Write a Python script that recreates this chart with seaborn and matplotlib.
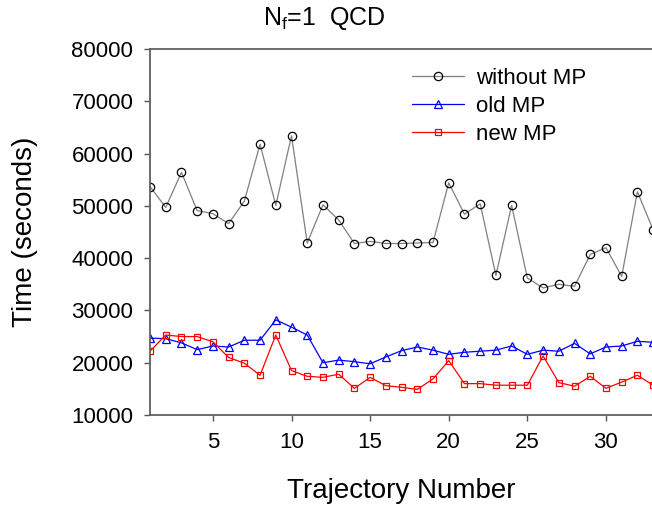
import matplotlib
matplotlib.use("Agg")
import matplotlib.pyplot as plt
import pandas as pd
import seaborn as sns

# trajectory numbers and timings (seconds)
trajectory = list(range(1, 34))
without_mp = [53700, 49700, 56400, 49100, 48500, 46600, 50900, 61800, 50100, 63400,
              42900, 50200, 47300, 42800, 43200, 42800, 42800, 42900, 43000, 54400,
              48400, 50400, 36700, 50100, 36200, 34300, 35000, 34600, 40700, 42000,
              36500, 52700, 45400]
old_mp = [24700, 24600, 23800, 22500, 23200, 23000, 24300, 24300, 28200, 26800,
          25300, 20000, 20500, 20200, 19800, 21100, 22300, 23000, 22400, 21600,
          22000, 22200, 22400, 23200, 21600, 22400, 22200, 23700, 21700, 23000,
          23200, 24100, 23900]
new_mp = [22200, 25300, 25000, 25000, 24000, 21000, 19900, 17600, 25300, 18500,
          17400, 17200, 17800, 15100, 17200, 15600, 15300, 14900, 16900, 20400,
          16000, 16000, 15700, 15700, 15700, 21300, 16200, 15500, 17400, 15100,
          16300, 17600, 15700]

sns.set_theme(style="ticks")
plt.rcParams["font.family"] = ["Liberation Sans", "DejaVu Sans"]
plt.rcParams["mathtext.default"] = "regular"
plt.rcParams["text.color"] = "black"
plt.rcParams["xtick.labelcolor"] = "black"
plt.rcParams["ytick.labelcolor"] = "black"

fig = plt.figure(figsize=(6.52, 5.08), dpi=100)
ax = fig.add_axes([150 / 652, 93 / 508, 522 / 652, 366 / 508])

df = pd.DataFrame({"traj": trajectory, "without": without_mp, "old": old_mp, "new": new_mp})

sns.lineplot(data=df, x="traj", y="without", ax=ax, color="#808080", lw=0.9,
             marker="o", ms=6, mfc="none", mec="black", mew=0.9, label="without MP")
sns.lineplot(data=df, x="traj", y="old", ax=ax, color="#0000ff", lw=0.9,
             marker="^", ms=5.5, mfc="none", mec="#0000ff", mew=0.9, label="old MP")
sns.lineplot(data=df, x="traj", y="new", ax=ax, color="#ff0000", lw=0.9,
             marker="s", ms=5, mfc="none", mec="#ff0000", mew=0.9, label="new MP")

ax.set_xlim(1, 34.2)
ax.set_ylim(10000, 80000)
ax.set_xticks([5, 10, 15, 20, 25, 30])
ax.set_yticks(range(10000, 80001, 10000))
ax.tick_params(labelsize=16, length=4, width=1, color="#555555", pad=8)
for s in ["left", "bottom", "top"]:
    ax.spines[s].set_visible(True)
    ax.spines[s].set_color("#606060")
    ax.spines[s].set_linewidth(1.3)
ax.spines["right"].set_visible(False)
ax.set_xlabel("")
ax.set_ylabel("")

fig.text(25 / 652, 1 - 232 / 508, "Time (seconds)", rotation=90, fontsize=20,
         ha="center", va="center")
fig.text(401 / 652, 1 - 491 / 508, "Trajectory Number", fontsize=20,
         ha="center", va="center")
fig.text(324 / 652, 1 - 5 / 508, "N$_f$=1  QCD", fontsize=18, ha="center", va="top")

leg = ax.legend(loc="upper left", bbox_to_anchor=(412 / 652, 1 - 68 / 508),
                bbox_transform=fig.transFigure, frameon=False, fontsize=16,
                handlelength=2.35, handletextpad=0.55, labelspacing=0.32,
                borderpad=0, borderaxespad=0)
for t in leg.get_texts():
    t.set_color("black")

fig.savefig("out.png", dpi=100)
